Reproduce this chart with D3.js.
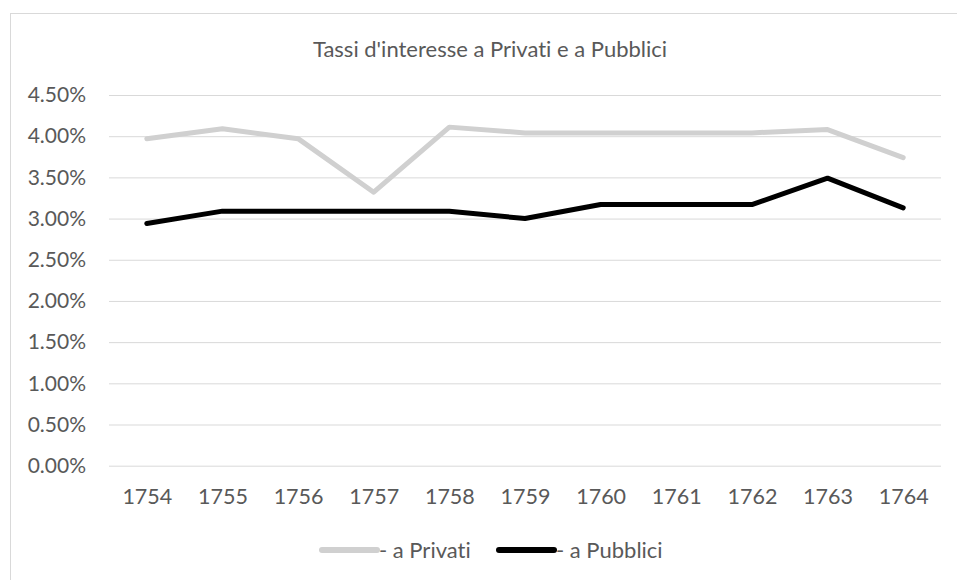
<!DOCTYPE html>
<html>
<head>
<meta charset="utf-8">
<script src="https://cdn.jsdelivr.net/npm/d3@7"></script>
<style>
  body { margin: 0; background: #fff; }
  svg text { font-family: Lato, "Open Sans", sans-serif; fill: #595959; font-variant-ligatures: none; }
</style>
</head>
<body>
<div class="dashboard"></div>
<script>

var years = ["1754","1755","1756","1757","1758","1759","1760","1761","1762","1763","1764"];
var privati = [0.0397, 0.0409, 0.0397, 0.0332, 0.0411, 0.0404, 0.0404, 0.0404, 0.0404, 0.0408, 0.0374];
var pubblici = [0.0294, 0.0309, 0.0309, 0.0309, 0.0309, 0.0300, 0.0317, 0.0317, 0.0317, 0.0349, 0.0313];
var yTicks = [0, 0.005, 0.01, 0.015, 0.02, 0.025, 0.03, 0.035, 0.04, 0.045];
var seriesNames = ["- a Privati", "- a Pubblici"];

var w = 957, h = 580;
var margin = {left:109, right:16, top:95, bottom:114.3};

var svg = d3.select("div.dashboard").append("svg")
            .attr("width", w)
            .attr("height", h);

// chart border (runs off the right/bottom edge in the original)
svg.append("rect")
   .attr("x", 10.5).attr("y", 13.5)
   .attr("width", 960).attr("height", 580)
   .attr("fill", "none")
   .attr("stroke", "#d9d9d9");

var x = d3.scalePoint()
          .domain(years)
          .range([margin.left, w - margin.right])
          .padding(0.5);

var y = d3.scaleLinear()
          .domain([0, 0.045])
          .range([h - margin.bottom, margin.top]);

var yAxis = d3.axisLeft(y)
              .tickValues(yTicks)
              .tickFormat(d3.format(".2%"))
              .tickSize(-(w - margin.left - margin.right))
              .tickPadding(23);

var gy = svg.append("g")
            .attr("class", "y axis")
            .attr("transform", "translate(" + margin.left + ",0)")
            .call(yAxis);
gy.select(".domain").remove();
gy.selectAll("line").attr("stroke", "#d9d9d9").attr("stroke-width", 1);
gy.selectAll("text").attr("font-size", 21);

var xAxis = d3.axisBottom(x).tickSize(0).tickPadding(23);
var gx = svg.append("g")
            .attr("class", "x axis")
            .attr("transform", "translate(0," + (h - margin.bottom) + ")")
            .call(xAxis);
gx.select(".domain").remove();
gx.selectAll("text").attr("font-size", 21.5);

var line = d3.line()
             .x(function(d, i){ return x(years[i]); })
             .y(function(d){ return y(d); });

svg.append("path")
   .attr("fill", "none")
   .attr("stroke", "#d0d0d0")
   .attr("stroke-width", 5)
   .attr("stroke-linejoin", "round")
   .attr("stroke-linecap", "round")
   .attr("d", line(privati));

svg.append("path")
   .attr("fill", "none")
   .attr("stroke", "#000")
   .attr("stroke-width", 5)
   .attr("stroke-linejoin", "round")
   .attr("stroke-linecap", "round")
   .attr("d", line(pubblici));

svg.append("text")
   .attr("x", 490)
   .attr("y", 57)
   .attr("text-anchor", "middle")
   .attr("font-size", 22)
   .text("Tassi d'interesse a Privati e a Pubblici");

// legend
var legendColors = ["#d0d0d0", "#000"];
var legendX = [322, 499];
var legend = svg.selectAll("g.legend")
   .data(seriesNames)
   .enter().append("g")
   .attr("class", "legend")
   .attr("transform", function(d, i){ return "translate(" + legendX[i] + ",550)"; });

legend.append("line")
   .attr("x1", 0).attr("x2", 55)
   .attr("stroke", function(d, i){ return legendColors[i]; })
   .attr("stroke-width", 6)
   .attr("stroke-linecap", "round");

legend.append("text")
   .attr("x", 57)
   .attr("dy", "0.35em")
   .attr("font-size", 22)
   .text(function(d){ return d; });

</script>
</body>
</html>
